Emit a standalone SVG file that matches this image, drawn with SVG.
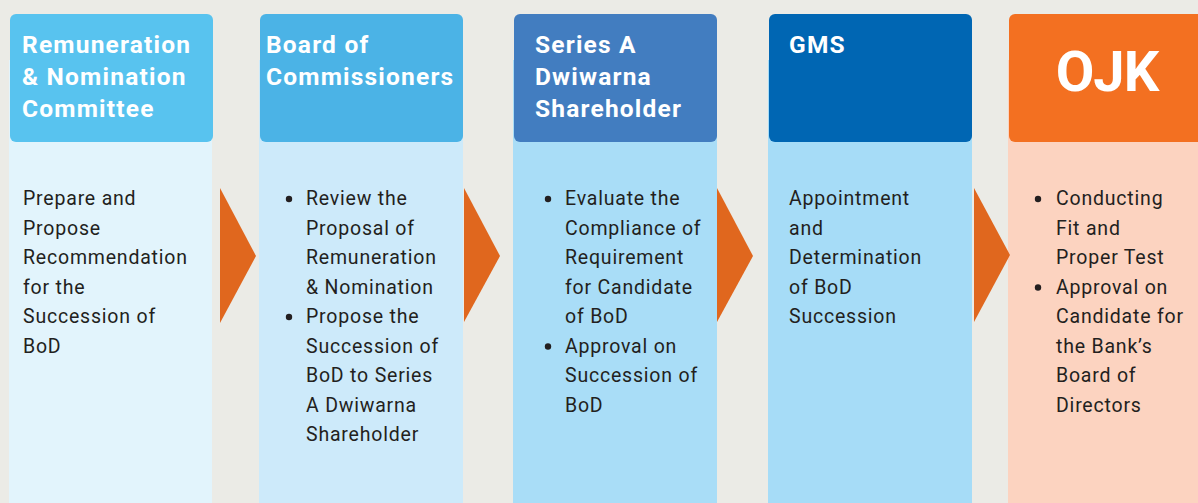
<svg xmlns="http://www.w3.org/2000/svg" width="1198" height="503" viewBox="0 0 1198 503">
<style>
.h{font-family:Roboto,"Liberation Sans",sans-serif;font-weight:bold;font-size:24.5px;fill:#fff;letter-spacing:1.2px}
.t{font-family:Roboto,"Liberation Sans",sans-serif;font-size:19.5px;fill:#231f20;letter-spacing:0.8px}
.b{fill:#231f20}
.arr{fill:#e0671e}
</style>
<rect width="1198" height="503" fill="#ebebe6"/>
<g id="n1">
<rect x="9" y="60" width="203" height="443" fill="#e2f4fc"/>
<rect x="10" y="14" width="203" height="128" rx="6" fill="#58c3ef"/>
<text class="h" x="22"><tspan x="22" y="53">Remuneration</tspan><tspan x="22" y="85">&amp; Nomination</tspan><tspan x="22" y="117">Committee</tspan></text>
<text class="t"><tspan x="23" y="205">Prepare and</tspan><tspan x="23" y="234.5">Propose</tspan><tspan x="23" y="264">Recommendation</tspan><tspan x="23" y="293.5">for the</tspan><tspan x="23" y="323">Succession of</tspan><tspan x="23" y="352.5">BoD</tspan></text>
</g>
<g id="n2">
<rect x="259" y="60" width="204" height="443" fill="#cdeafa"/>
<rect x="260" y="14" width="203" height="128" rx="6" fill="#4bb3e6"/>
<text class="h"><tspan x="266" y="53">Board of</tspan><tspan x="266" y="85">Commissioners</tspan></text>
<circle class="b" cx="289" cy="199" r="3.2"/>
<circle class="b" cx="289" cy="317" r="3.2"/>
<text class="t"><tspan x="306" y="205">Review the</tspan><tspan x="306" y="234.5">Proposal of</tspan><tspan x="306" y="264">Remuneration</tspan><tspan x="306" y="293.5">&amp; Nomination</tspan><tspan x="306" y="323">Propose the</tspan><tspan x="306" y="352.5">Succession of</tspan><tspan x="306" y="382">BoD to Series</tspan><tspan x="306" y="411.5">A Dwiwarna</tspan><tspan x="306" y="441">Shareholder</tspan></text>
</g>
<g id="n3">
<rect x="513" y="60" width="204" height="443" fill="#a9ddf7"/>
<rect x="514" y="14" width="203" height="128" rx="6" fill="#427dc0"/>
<text class="h"><tspan x="535" y="53">Series A</tspan><tspan x="535" y="85">Dwiwarna</tspan><tspan x="535" y="117">Shareholder</tspan></text>
<circle class="b" cx="548" cy="199" r="3.2"/>
<circle class="b" cx="548" cy="346.5" r="3.2"/>
<text class="t"><tspan x="565" y="205">Evaluate the</tspan><tspan x="565" y="234.5">Compliance of</tspan><tspan x="565" y="264">Requirement</tspan><tspan x="565" y="293.5">for Candidate</tspan><tspan x="565" y="323">of BoD</tspan><tspan x="565" y="352.5">Approval on</tspan><tspan x="565" y="382">Succession of</tspan><tspan x="565" y="411.5">BoD</tspan></text>
</g>
<g id="n4">
<rect x="768" y="60" width="204" height="443" fill="#a6dcf7"/>
<rect x="769" y="14" width="203" height="128" rx="6" fill="#0066b3"/>
<text class="h" x="789" y="53">GMS</text>
<text class="t"><tspan x="789" y="205">Appointment</tspan><tspan x="789" y="234.5">and</tspan><tspan x="789" y="264">Determination</tspan><tspan x="789" y="293.5">of BoD</tspan><tspan x="789" y="323">Succession</tspan></text>
</g>
<g id="n5">
<rect x="1008" y="60" width="200" height="443" fill="#fcd3c0"/>
<rect x="1009" y="14" width="200" height="128" rx="6" fill="#f37021"/>
<text x="1107" y="91" text-anchor="middle" style="font-family:Roboto,'Liberation Sans',sans-serif;font-weight:bold;font-size:56px;fill:#fff;letter-spacing:-1px">OJK</text>
<circle class="b" cx="1038" cy="199" r="3.2"/>
<circle class="b" cx="1038" cy="287.5" r="3.2"/>
<text class="t"><tspan x="1056" y="205">Conducting</tspan><tspan x="1056" y="234.5">Fit and</tspan><tspan x="1056" y="264">Proper Test</tspan><tspan x="1056" y="293.5">Approval on</tspan><tspan x="1056" y="323">Candidate for</tspan><tspan x="1056" y="352.5">the Bank’s</tspan><tspan x="1056" y="382">Board of</tspan><tspan x="1056" y="411.5">Directors</tspan></text>
</g>
<g id="connectors">
<polygon class="arr" points="220,188 256,256 220,323"/>
<polygon class="arr" points="464,188 500,256 464,322"/>
<polygon class="arr" points="717,188 753,256 717,322"/>
<polygon class="arr" points="974,188 1010,255 974,322"/>
</g>
</svg>
